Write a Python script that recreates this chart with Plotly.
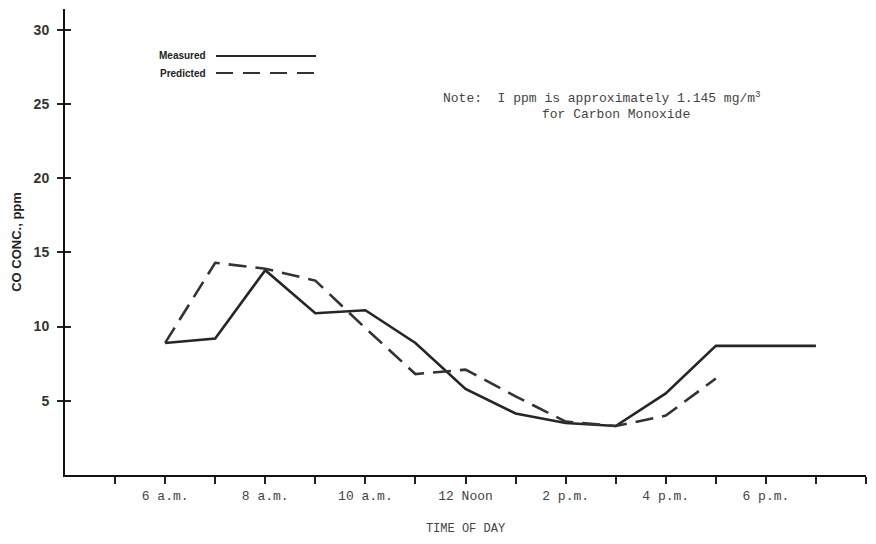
import plotly.graph_objects as go

# Data (hour of day, 24h clock)
measured_hours = [6, 7, 8, 9, 10, 11, 12, 13, 14, 15, 16, 17, 18, 19]
measured_ppm = [8.9, 9.2, 13.8, 10.9, 11.1, 8.9, 5.8, 4.15, 3.5, 3.3, 5.5, 8.7, 8.7, 8.7]

predicted_hours = [6, 7, 8, 9, 10, 11, 12, 13, 14, 15, 16, 17]
predicted_ppm = [8.9, 14.3, 13.9, 13.1, 9.9, 6.8, 7.1, 5.3, 3.6, 3.3, 4.0, 6.5]

x_tick_vals = list(range(5, 21))
x_tick_text = ["", "6 a.m.", "", "8 a.m.", "", "10 a.m.", "", "12 Noon", "",
               "2 p.m.", "", "4 p.m.", "", "6 p.m.", "", ""]
y_tick_vals = [5, 10, 15, 20, 25, 30]
y_tick_text = ["5", "10", "15", "20", "25", "30"]

LINE_COLOR = "#262626"
MONO = "Liberation Mono, DejaVu Sans Mono, monospace"
SANS = "Liberation Sans, Arial, sans-serif"

fig = go.Figure()
fig.add_trace(go.Scatter(x=measured_hours, y=measured_ppm, mode="lines",
                         name="Measured",
                         line=dict(color=LINE_COLOR, width=2.6)))
fig.add_trace(go.Scatter(x=predicted_hours, y=predicted_ppm, mode="lines",
                         name="Predicted",
                         line=dict(color="#333333", width=2.6, dash="18px,9px")))
# invisible trace to activate overlay axis (inside ticks on y)
fig.add_trace(go.Scatter(x=[4], y=[0], yaxis="y2", mode="markers",
                         marker=dict(opacity=0), showlegend=False, hoverinfo="skip"))

# The page body has an 8px margin, so the figure is sized/offset to compensate
fig.update_layout(
    width=860, height=528,
    margin=dict(l=57, r=2, t=1, b=61),
    plot_bgcolor="white", paper_bgcolor="white",
    showlegend=False,
    xaxis=dict(range=[4, 20], tickvals=x_tick_vals, ticktext=x_tick_text,
               automargin=False,
               showgrid=False, zeroline=False, showline=True,
               linecolor="#111111", linewidth=2,
               ticks="outside", ticklen=7, tickwidth=1.5, tickcolor="#222222",
               tickfont=dict(family=MONO, size=13, color="#444444"),
               title=dict(text="TIME OF DAY", standoff=31,
                          font=dict(family=MONO, size=12, color="#444444"))),
    yaxis=dict(range=[0, 31.4], tickvals=y_tick_vals, ticktext=y_tick_text,
               automargin=False,
               showgrid=False, zeroline=False, showline=True,
               linecolor="#111111", linewidth=2,
               ticks="outside", ticklen=6, tickwidth=1.5, tickcolor="#222222",
               ticklabelstandoff=5,
               tickfont=dict(family=SANS, size=14, color="#333333", weight="bold"),
               title=dict(text="CO CONC., ppm", standoff=9,
                          font=dict(family=SANS, size=13, color="#222222", weight="bold"))),
    yaxis2=dict(range=[0, 31.4], overlaying="y", side="left", tickvals=y_tick_vals,
                automargin=False,
                showticklabels=False, showgrid=False, zeroline=False, showline=False,
                ticks="inside", ticklen=6, tickwidth=1.5, tickcolor="#222222"),
)

# paper coordinates from page pixels (plot area spans x 65..866, y 9..475)
def px(X):
    return (X - 65) / 801

def py(Y):
    return (475 - Y) / 466

# Legend drawn like the original (text, then line sample)
fig.add_annotation(xref="paper", yref="paper", x=px(208), y=py(55), xanchor="right",
                   yanchor="middle", showarrow=False, text="Measured",
                   font=dict(family=SANS, size=10, color="#222222", weight="bold"))
fig.add_annotation(xref="paper", yref="paper", x=px(208), y=py(73), xanchor="right",
                   yanchor="middle", showarrow=False, text="Predicted",
                   font=dict(family=SANS, size=10, color="#222222", weight="bold"))
fig.add_shape(type="line", xref="paper", yref="paper", x0=px(216), x1=px(316),
              y0=py(56), y1=py(56), line=dict(color=LINE_COLOR, width=2))
fig.add_shape(type="line", xref="paper", yref="paper", x0=px(216), x1=px(318),
              y0=py(73), y1=py(73), line=dict(color="#333333", width=2, dash="17px,10px"))

# Note
fig.add_annotation(xref="paper", yref="paper", x=px(602), y=py(97), xanchor="center",
                   yanchor="middle", showarrow=False,
                   text="Note:  I ppm is approximately 1.145 mg/m<sup>3</sup>",
                   font=dict(family=MONO, size=13, color="#444444"))
fig.add_annotation(xref="paper", yref="paper", x=px(616), y=py(114), xanchor="center",
                   yanchor="middle", showarrow=False,
                   text="for Carbon Monoxide",
                   font=dict(family=MONO, size=13, color="#444444"))

fig.write_html("out.html")
